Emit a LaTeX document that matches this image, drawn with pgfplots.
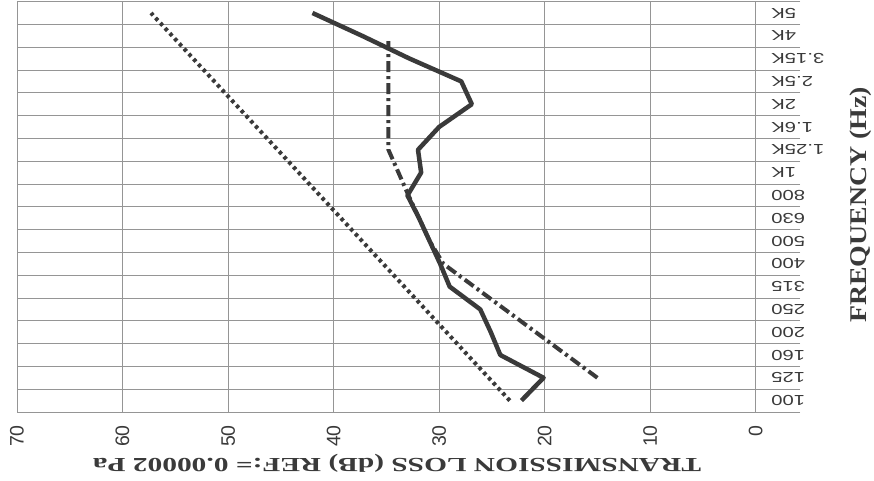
\documentclass[border=0pt]{standalone}
\usepackage{graphicx}
\usepackage{pgfplots}
\pgfplotsset{compat=1.18}
\usepackage{fontspec}
\setmainfont{Liberation Serif}
\newfontfamily\arialf{Liberation Sans}
\definecolor{ink}{HTML}{3A3A3A}
\definecolor{gridc}{HTML}{959595}
\begin{document}
\begin{tikzpicture}[x=1pt,y=1pt]
\useasboundingbox (0,0) rectangle (874,481);
\begin{axis}[
  at={(17pt,69pt)}, anchor=south west,
  scale only axis, width=783pt, height=410.4pt,
  x dir=reverse, xmin=-4.2, xmax=70, ymin=0, ymax=18,
  axis line style={draw=none},
  xtick={0,10,...,70},
  ytick={0.5,1.5,...,17.5},
  yticklabels={100,125,160,200,250,315,400,500,630,800,1K,1.25K,1.6K,2K,2.5K,3.15K,4K,5K},
  minor ytick={0,1,...,18},
  xmajorgrids, yminorgrids, ymajorgrids=false,
  major grid style={gridc, line width=0.9pt},
  minor grid style={gridc, line width=0.9pt},
  major tick length=0pt, minor tick length=0pt,
  yticklabel pos=right,
  xticklabel style={rotate=90, anchor=east, inner sep=0pt, font=\arialf\fontsize{19.5}{19.5}\selectfont, text=ink},
  xticklabel shift=13pt,
  yticklabel style={rotate=180, anchor=east, inner sep=0pt, xscale=1.4, font=\arialf\fontsize{14.5}{14.5}\selectfont, text=ink},
  yticklabel shift=-29pt,
  /pgf/number format/assume math mode=true,
  clip=false,
]
% dash-dot series
\addplot[ink, line width=4pt, dash pattern=on 11pt off 4pt on 3pt off 4pt] coordinates {
  (15.0,1.5) (29.6,6.5) (30.9,7.5) (31.9,8.5) (32.9,9.5) (34.8,11.5) (34.8,16.27)
};
% dotted series
\addplot[ink, line width=4pt, dash pattern=on 3.5pt off 3.5pt] coordinates {
  (23.3,0.5) (25.3,1.5) (27.3,2.5) (29.3,3.5) (31.3,4.5) (33.3,5.5) (35.3,6.5) (37.3,7.5) (39.3,8.5)
  (41.3,9.5) (43.3,10.5) (45.3,11.5) (47.3,12.5) (49.3,13.5) (51.3,14.5) (53.3,15.5) (55.3,16.5) (57.3,17.5)
};
% solid series
\addplot[ink, line width=4.5pt, line join=round] coordinates {
  (22.2,0.5) (20.1,1.5) (24.2,2.5) (25.1,3.5) (26.1,4.5) (29.0,5.5) (29.9,6.5) (30.9,7.5) (31.9,8.5)
  (33.0,9.5) (31.7,10.5) (32.0,11.5) (30.0,12.5) (26.9,13.5) (27.9,14.5) (32.8,15.5) (37.3,16.5) (42.0,17.5)
};
\end{axis}
\node[rotate=180, text=ink, font=\bfseries\fontsize{20}{20}\selectfont] at (397,17.5) {\scalebox{1.47}[1]{TRANSMISSION LOSS (dB) REF:= 0.00002 Pa}};
\node[rotate=90, text=ink, font=\bfseries\fontsize{24}{24}\selectfont] at (861,276) {\scalebox{1.16}[1]{FREQUENCY (Hz)}};
\end{tikzpicture}
\end{document}
